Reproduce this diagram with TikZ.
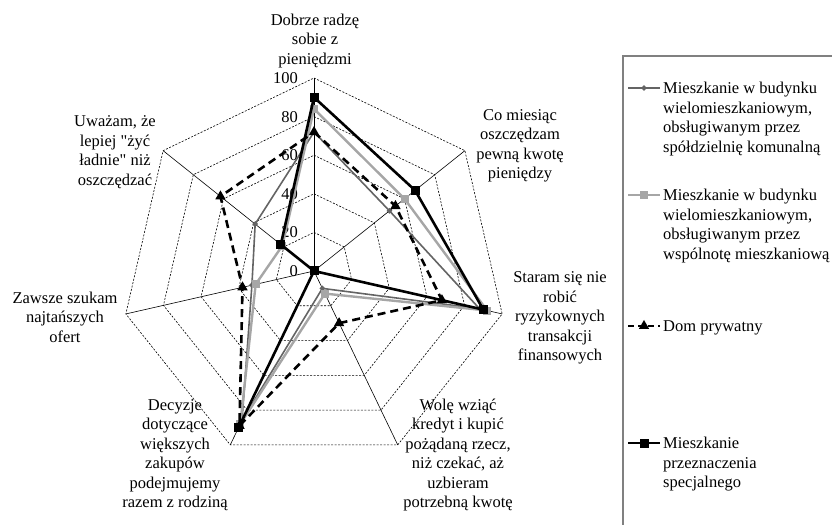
\documentclass[tikz,border=0pt]{standalone}
\usepackage{fontspec}
\setmainfont{Liberation Serif}[Ligatures=TeXOff]
\usetikzlibrary{positioning,calc,shapes.geometric}
\definecolor{coopgray}{RGB}{100,100,100}
\definecolor{commgray}{RGB}{166,166,166}
\definecolor{framegray}{RGB}{128,128,128}

% one named point per axis, values 0..100
\newcommand{\radarpts}[2]{%
  \foreach \val [count=\k] in {#2}
    \coordinate (#1\k) at ($(c)+({90-(\k-1)*360/7}:{\val*1.93})$);%
}

\begin{document}
\begin{tikzpicture}[x=1pt, y=1pt, every node/.style={font=\fontsize{16.5}{19.5}\selectfont}]
\tikzset{ring/.style={draw, line width=0.6pt, dash pattern=on 2pt off 1.5pt},
  spoke/.style={draw, line width=0.6pt},
  lab/.style={align=center, inner sep=0pt},
  legtext/.style={align=left, inner sep=0pt, anchor=north west},
  serA/.style={coopgray, line width=1.6pt, line join=round},
  serB/.style={commgray, line width=2.4pt, line join=round},
  serC/.style={black, line width=2.6pt, dash pattern=on 8pt off 5pt},
  serD/.style={black, line width=2.6pt, line join=round},
  mkA/.style={diamond, fill=coopgray, inner sep=0pt, minimum size=6pt},
  mkB/.style={rectangle, fill=commgray, inner sep=0pt, minimum size=8pt},
  mkC/.style={regular polygon, regular polygon sides=3, fill=black, inner sep=0pt, minimum size=12pt},
  mkD/.style={rectangle, fill=black, inner sep=0pt, minimum size=9pt}}
\useasboundingbox (0,0) rectangle (832,525);
\coordinate (c) at (314,254);

% grid
\radarpts{ax}{100,100,100,100,100,100,100}
\foreach \r in {20,40,...,100}
  \draw[ring] ($(c)+(90:{\r*1.93})$) \foreach \k in {2,...,7} { -- ($(c)+({90-(\k-1)*360/7}:{\r*1.93})$) } -- cycle;
\foreach \k in {1,...,7} \draw[spoke] (c) -- (ax\k);
\foreach \tk in {0,20,...,100} \node[anchor=east, inner sep=0pt] (tick\tk) at (298,{254+\tk*1.93}) {\tk};

% axis labels
\node[lab] (l1) at (315,484) {Dobrze radzę\\sobie z\\pieniędzmi};
\node[lab] (l2) at (520,379) {Co miesiąc\\oszczędzam\\pewną kwotę\\pieniędzy};
\node[lab] (l3) at (560,207) {Staram się nie\\robić\\ryzykownych\\transakcji\\finansowych};
\node[lab] (l4) at (458,70) {Wolę wziąć\\kredyt i kupić\\pożądaną rzecz,\\niż czekać, aż\\uzbieram\\potrzebną kwotę};
\node[lab] (l5) at (175,70) {Decyzje\\dotyczące\\większych\\zakupów\\podejmujemy\\razem z rodziną};
\node[lab] (l6) at (65,208) {Zawsze szukam\\najtańszych\\ofert};
\node[lab] (l7) at (115,373) {Uważam, że\\lepiej "żyć\\ładnie" niż\\oszczędzać};

% series
\radarpts{a}{72,50,88,10,86,33,39}
\radarpts{b}{84,60,92,13,88,31,21}
\radarpts{p}{72,54,68,30,89,38,62}
\radarpts{s}{90,67,90,0,90,0,22}
\draw[serA] (a1) -- (a2) -- (a3) -- (a4) -- (a5) -- (a6) -- (a7) -- cycle;
\foreach \k in {1,...,7} \node[mkA] (ma\k) at (a\k) {};
\draw[serB] (b1) -- (b2) -- (b3) -- (b4) -- (b5) -- (b6) -- (b7) -- cycle;
\foreach \k in {1,...,7} \node[mkB] (mb\k) at (b\k) {};
\draw[serC] (p1) -- (p2) -- (p3) -- (p4) -- (p5) -- (p6) -- (p7) -- cycle;
\foreach \k in {1,...,7} \node[mkC] (mp\k) at (p\k) {};
\draw[serD] (s1) -- (s2) -- (s3) -- (s4) -- (s5) -- (s6) -- (s7) -- cycle;
\foreach \k in {1,...,7} \node[mkD] (ms\k) at (s\k) {};

% legend
\coordinate (fr1) at (832,469);
\coordinate (fr2) at (623,469);
\coordinate (fr3) at (623,0);
\draw[framegray, line width=1.2pt] (fr1) -- (fr2) -- (fr3);
\coordinate (la1) at (628,437); \coordinate (lb1) at (660,437);
\draw[serA] (la1) -- (lb1); \node[mkA] (lm1) at ($(la1)!0.5!(lb1)$) {};
\node[legtext] (lt1) at (663,443) {Mieszkanie w budynku\\wielomieszkaniowym,\\obsługiwanym przez\\spółdzielnię komunalną};
\coordinate (la2) at (628,330); \coordinate (lb2) at (660,330);
\draw[serB] (la2) -- (lb2); \node[mkB] (lm2) at ($(la2)!0.5!(lb2)$) {};
\node[legtext] (lt2) at (663,336) {Mieszkanie w budynku\\wielomieszkaniowym,\\obsługiwanym przez\\wspólnotę mieszkaniową};
\coordinate (la3) at (628,199); \coordinate (lb3) at (660,199);
\draw[serC, dash pattern=on 6pt off 4pt] (la3) -- (lb3); \node[mkC] (lm3) at ($(la3)!0.5!(lb3)$) {};
\node[legtext] (lt3) at (663,205) {Dom prywatny};
\coordinate (la4) at (628,82); \coordinate (lb4) at (660,82);
\draw[serD] (la4) -- (lb4); \node[mkD] (lm4) at ($(la4)!0.5!(lb4)$) {};
\node[legtext] (lt4) at (663,88) {Mieszkanie\\przeznaczenia\\specjalnego};
\end{tikzpicture}
\end{document}
